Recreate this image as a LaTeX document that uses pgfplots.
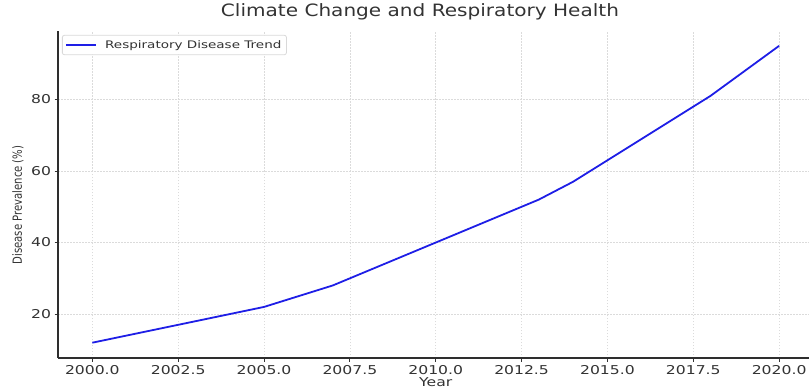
\documentclass[border=0pt]{standalone}
\usepackage{fontspec}
\usepackage{pgfplots}
\pgfplotsset{compat=1.18}
\setmainfont{DejaVu Sans}
\newfontfamily\tickfont[FakeStretch=1.28]{DejaVu Sans}
\newfontfamily\titlefont[FakeStretch=1.18]{DejaVu Sans}
\newfontfamily\legfont[FakeStretch=1.3]{DejaVu Sans}
\newfontfamily\ylabfont[FakeStretch=0.8]{DejaVu Sans}
\definecolor{txt}{HTML}{333333}
\definecolor{trend}{RGB}{30,30,230}

\begin{document}
\begin{tikzpicture}
\useasboundingbox (0,0) rectangle (809pt,389pt);
\begin{axis}[
  at={(58pt,31pt)}, anchor=south west,
  scale only axis, width=751pt, height=327pt,
  xmin=1999, xmax=2020.87, ymin=7.72, ymax=99.15,
  axis x line*=bottom, axis y line*=left,
  axis line style={color=txt!90!black, line width=1.6pt},
  xtick={2000,2002.5,2005,2007.5,2010,2012.5,2015,2017.5,2020},
  ytick={20,40,60,80},
  grid=major,
  major grid style={gray!28, dash pattern=on 1.5pt off 1.5pt, line width=0.7pt},
  tick style={color=txt, line width=0.9pt}, major tick length=3.5pt, tick align=outside,
  x tick label style={font=\tickfont\fontsize{12.2}{14}\selectfont, text=txt,
    /pgf/number format/.cd, fixed, fixed zerofill, precision=1, 1000 sep={}, assume math mode=true},
  y tick label style={font=\tickfont\fontsize{12.2}{14}\selectfont, text=txt,
    /pgf/number format/assume math mode=true},
  title={Climate Change and Respiratory Health},
  title style={font=\titlefont\fontsize{17}{20}\selectfont, text=txt,
    at={(axis description cs:0.482,1.040)}, anchor=center},
  xlabel={Year},
  xlabel style={font=\tickfont\fontsize{12.2}{14}\selectfont, text=txt,
    at={(axis description cs:0.503,-0.073)}, anchor=center},
  ylabel={Disease Prevalence (\%)},
  ylabel style={font=\ylabfont\fontsize{12.6}{14}\selectfont, text=txt,
    at={(axis description cs:-0.0533,0.468)}, anchor=center},
  legend style={at={(axis description cs:0.0053,0.988)}, anchor=north west,
    draw=gray!30, rounded corners=2pt, fill=white, line width=0.8pt,
    font=\legfont\fontsize{10.4}{12}\selectfont, text=txt,
    inner xsep=3pt, inner ysep=3pt},
  legend image code/.code={\draw[#1] (3pt,0pt) -- (33pt,0pt); \path (39pt,0pt);},
]
\addplot[color=trend, line width=1.8pt] coordinates {
  (2000,12) (2005,22) (2007,28) (2010,40) (2013,52) (2014,57) (2018,81) (2020,95)
};
\addlegendentry{Respiratory Disease Trend}
\end{axis}
\end{tikzpicture}
\end{document}
